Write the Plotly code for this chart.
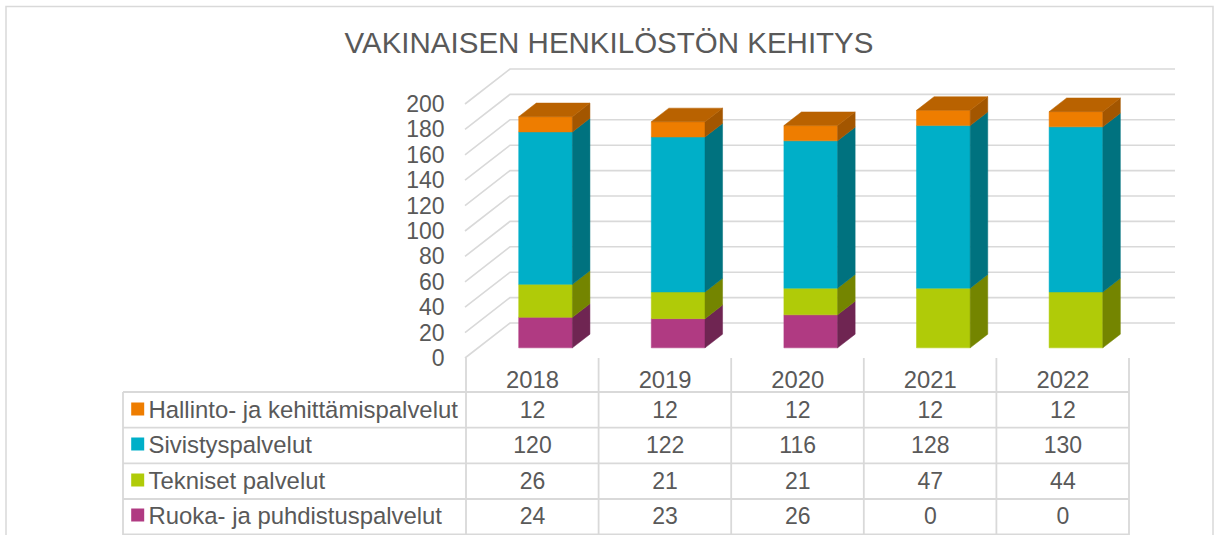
import plotly.graph_objects as go

title = "VAKINAISEN HENKILÖSTÖN KEHITYS"
years = ["2018", "2019", "2020", "2021", "2022"]
# table order, top row first
series_names = ["Hallinto- ja kehittämispalvelut", "Sivistyspalvelut", "Tekniset palvelut", "Ruoka- ja puhdistuspalvelut"]
hallinto = [12, 12, 12, 12, 12]
sivistys = [120, 122, 116, 128, 130]
tekniset = [26, 21, 21, 47, 44]
ruoka = [24, 23, 26, 0, 0]
front_colors = ["#EE7D00", "#00AFC8", "#B0CB08", "#B03A82"]
side_colors = ["#A35600", "#00727F", "#748500", "#6F2552"]
top_colors = ["#B96200", "#00899C", "#8A9E06", "#8A2E66"]
y_ticks = list(range(0, 201, 20))

W, H = 1214, 535
PX_PER_CAT = 132.6
PX_PER_VAL = 1.27
X0_PX, Y0_PX = 532.5, 358
GREY = "#D9D9D9"
TEXT = "#595959"
FONT = "Liberation Sans"
SIZE = 23

xp = lambda px: (px - X0_PX) / PX_PER_CAT
yp = lambda px: (Y0_PX - px) / PX_PER_VAL
DEPTH_X = 45 / PX_PER_CAT
DEPTH_Y = 35 / PX_PER_VAL
GRID_RIGHT = xp(1175)
BAR_D0, BAR_D1 = 0.29, 0.68
HALF = 0.2025

fig = go.Figure()

def line(xs, ys, color=GREY, width=1.6):
    fig.add_trace(go.Scatter(x=xs, y=ys, mode="lines", line=dict(color=color, width=width),
                             hoverinfo="skip", showlegend=False))

def poly(xs, ys, color, name=None):
    fig.add_trace(go.Scatter(x=xs + xs[:1], y=ys + ys[:1], mode="lines", fill="toself", fillcolor=color,
                             line=dict(color=color, width=0.5), name=name, showlegend=False, hoverinfo="skip"))

# walls
for v in y_ticks:
    line([xp(465), xp(465) + DEPTH_X, GRID_RIGHT], [v, v + DEPTH_Y, v + DEPTH_Y])

# bars
stack = [ruoka, tekniset, sivistys, hallinto]
stack_idx = [3, 2, 1, 0]
for i in range(len(years)):
    base = 0
    top_k = None
    for vals, k in zip(stack, stack_idx):
        v = vals[i]
        if v == 0:
            continue
        xl = i + DEPTH_X * BAR_D0 - HALF
        xr = i + DEPTH_X * BAR_D0 + HALF
        dx = DEPTH_X * (BAR_D1 - BAR_D0)
        dy = DEPTH_Y * (BAR_D1 - BAR_D0)
        lo = base + DEPTH_Y * BAR_D0
        hi = lo + v
        poly([xl, xr, xr, xl], [lo, lo, hi, hi], front_colors[k], series_names[k])
        poly([xr, xr + dx, xr + dx, xr], [lo, lo + dy, hi + dy, hi], side_colors[k])
        base += v
        top_k = k
    hi = base + DEPTH_Y * BAR_D0
    poly([xl, xr, xr + dx, xl + dx], [hi, hi, hi + dy, hi + dy], top_colors[top_k])

# table rules
row_rules = [392, 427.7, 463.3, 499, 534.5]
col_rules = [466 + PX_PER_CAT * n for n in range(6)]
left = xp(123)
right = xp(col_rules[-1])
for r in row_rules:
    line([left, right], [yp(r), yp(r)], width=1.8)
line([left, left], [yp(392), yp(535)], width=1.8)
for c in col_rules:
    line([xp(c), xp(c)], [yp(358), yp(535)], width=1.8)

# table text
rows = [hallinto, sivistys, tekniset, ruoka]
row_px = [412, 447, 483, 518]
for name, vals, px, color in zip(series_names, rows, row_px, front_colors):
    fig.add_trace(go.Scatter(x=list(range(len(years))), y=[yp(px)] * len(years), mode="text",
                             text=[str(v) for v in vals], textposition="middle center",
                             textfont=dict(family=FONT, size=SIZE, color=TEXT), showlegend=False, hoverinfo="skip"))
    fig.add_trace(go.Scatter(x=[xp(137.7)], y=[yp(px - 3)], mode="markers",
                             marker=dict(symbol="square", size=13, color=color, line=dict(width=0)),
                             showlegend=False, hoverinfo="skip"))
    fig.add_trace(go.Scatter(x=[xp(148.5)], y=[yp(px)], mode="text", text=[name], textposition="middle right",
                             textfont=dict(family=FONT, size=23.9, color=TEXT), showlegend=False, hoverinfo="skip"))

fig.update_layout(
    width=W, height=H, autosize=False,
    margin=dict(l=0, r=0, t=0, b=0), paper_bgcolor="white", plot_bgcolor="white", showlegend=False,
    title=dict(text=title, x=609 / W, xanchor="center", y=1 - 43 / H, yanchor="middle",
               font=dict(family=FONT, size=29.5, color=TEXT)),
    xaxis=dict(range=[xp(0), xp(W)], domain=[0, 1], anchor="free", position=1 - Y0_PX / H,
               tickmode="array", tickvals=list(range(len(years))), ticktext=years,
               showgrid=False, zeroline=False, showline=False, ticks="outside", ticklen=0, tickcolor="rgba(0,0,0,0)",
               tickfont=dict(family=FONT, size=23.8, color=TEXT)),
    yaxis=dict(range=[yp(H), yp(0)], domain=[0, 1], anchor="free", position=444.5 / W,
               tickmode="array", tickvals=y_ticks, showgrid=False, zeroline=False, showline=False, ticks="",
               tickfont=dict(family=FONT, size=SIZE, color=TEXT)),
    shapes=[dict(type="rect", xref="paper", yref="paper", x0=6 / W, x1=1213 / W, y0=-0.02, y1=1 - 6.5 / H,
                 line=dict(color=GREY, width=1.5), layer="below")],
)
fig.write_html("out.html", config=dict(displayModeBar=False),
               post_script="document.body.style.margin='0';document.body.style.overflow='hidden';")
